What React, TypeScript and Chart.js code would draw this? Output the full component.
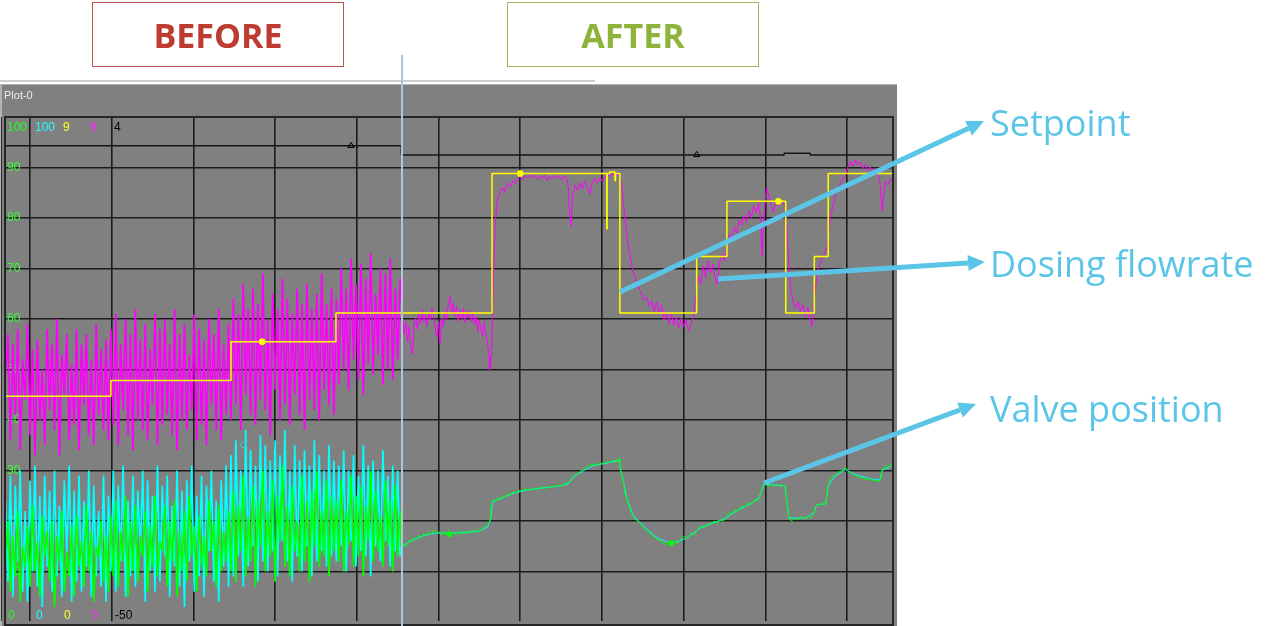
import React, { useEffect, useRef } from "react";
import { Chart, registerables } from "chart.js";

Chart.register(...registerables);

// ---------- axes ----------
const X_MIN = -3.06;
const X_MAX = 105.63;
const Y_MIN = 0.2;
const Y_MAX = 100;
const gridTimes = [0, 10, 20, 30, 40, 50, 60, 70, 80, 90, 100];
const gridLevels = [10, 20, 30, 40, 50, 60, 70, 80, 90, 100];
const levelLabels = ["90", "80", "70", "60", "50", "40", "30", "20", "10"];
const levelLabelValues = [90, 80, 70, 60, 50, 40, 30, 20, 10];
const switchTime = 45.4;

const plotTitle = "Plot-0";
const penTop = ["100", "100", "9", "9", "4"];
const penBottom = ["0", "0", "0", "0", "-50"];
const penColors = ["#22ff22", "#22ffff", "#ffff22", "#ff22ff", "#000000"];

// ---------- before period (sampled every 0.3 min from -3.0) ----------
const beforeStart = -3.0;
const beforeStep = 0.3;

const magentaBefore = [
  48, 57, 36, 55, 41, 58, 34, 52, 44, 59, 37, 54, 33, 56, 40, 50, 35, 58, 42, 55,
  38, 60, 33, 53, 45, 57, 36, 51, 39, 58, 34, 55, 43, 57, 37, 52, 35, 59, 41, 54,
  38, 56, 36,
  58, 39, 61, 35, 55, 42, 60, 37, 57, 34, 62, 40, 56, 38, 59, 36, 54, 43, 61, 35,
  58, 39, 60, 41, 55, 37, 62, 34, 57, 40, 59, 38, 53, 42, 61, 36, 58, 39, 56, 35,
  60, 43, 57, 38, 62, 36, 55, 41, 59,
  40, 64, 43, 61, 38, 67, 45, 62, 41, 66, 39, 63, 44, 69, 42, 60, 37, 65, 46, 62,
  40, 68, 43, 64, 39, 61, 45, 66, 41, 63, 38, 67, 44, 62, 42, 65, 40, 69, 46, 63,
  43, 66, 41,
  64, 47, 70, 50, 66, 46, 72, 52, 67, 48, 71, 45, 68, 51, 73, 49, 65, 53, 70, 47,
  69, 50, 72, 48, 66, 52, 68,
];

const cyanBefore = [
  24, 8, 29, 5, 27, 12, 30, 6, 22, 4, 28, 10, 31, 7, 25, 3, 29, 11, 26, 6,
  30, 9, 23, 5, 28, 13, 31, 4, 26, 8, 29, 6, 24, 11, 30, 5, 27, 9, 22, 7,
  29, 4, 25,
  10, 30, 6, 27, 12, 31, 5, 24, 9, 29, 7, 26, 14, 30, 4, 28, 10, 25, 6, 31,
  8, 27, 13, 29, 5, 23, 11, 30, 7, 26, 3, 28, 12, 31, 6, 25, 9, 29, 5, 27,
  14, 30, 8, 24, 4, 28, 11, 31, 7,
  33, 9, 36, 13, 30, 7, 38, 11, 34, 15, 31, 8, 37, 12, 35, 10, 32, 14, 36, 9,
  33, 16, 38, 12, 30, 8, 35, 13, 32, 10, 34, 15, 31, 9, 36, 12, 33, 14, 30, 11,
  35, 13, 32,
  12, 31, 15, 34, 10, 30, 16, 33, 11, 29, 14, 35, 13, 31, 9, 32, 15, 30, 12, 34,
  16, 29, 11, 31, 14, 30, 13,
];

const greenBefore = [
  12, 20, 6, 17, 9, 22, 4, 15, 11, 19, 7, 23, 10, 16, 5, 21, 13, 18, 8, 20,
  3, 17, 12, 22, 6, 14, 9, 19, 5, 21, 11, 16, 7, 23, 10, 18, 4, 15, 13, 20,
  8, 17, 6,
  21, 9, 24, 7, 18, 12, 25, 5, 20, 10, 23, 8, 17, 13, 22, 6, 19, 11, 25, 9,
  16, 14, 23, 7, 20, 12, 24, 5, 18, 10, 22, 8, 25, 13, 19, 6, 21, 11, 17, 9,
  24, 14, 20, 7, 23, 10, 18, 12, 22,
  10, 26, 8, 23, 14, 29, 9, 21, 12, 27, 7, 24, 15, 30, 10, 22, 13, 28, 8, 25,
  16, 31, 11, 23, 9, 27, 14, 20, 10, 29, 12, 24, 8, 26, 15, 30, 11, 22, 13, 28,
  9, 25, 14,
  24, 12, 28, 10, 22, 15, 29, 11, 25, 13, 27, 9, 23, 16, 30, 12, 26, 14, 21, 11,
  28, 15, 24, 10, 27, 13, 22,
];

// ---------- after period [minute, value] ----------
const magentaAfter: [number, number][] = [
  [45.6, 60.5], [45.8, 57], [46.0, 59.5], [46.2, 55.5], [46.4, 58.5], [46.6, 54], [46.8, 53], [47.0, 58.8],
  [47.2, 60.2], [47.4, 58], [47.6, 61], [47.8, 59], [48.0, 61.8], [48.2, 59.5], [48.4, 60.8], [48.6, 58.5],
  [48.8, 61.2], [49.0, 59.8], [49.2, 62.2], [49.4, 60.5], [49.6, 58.2], [49.8, 56.5], [50.0, 59.5], [50.2, 55],
  [50.4, 60.2], [50.6, 58.5], [50.8, 61.5], [51.0, 60], [51.2, 62.8], [51.4, 64.5], [51.6, 61], [51.8, 63.2],
  [52.0, 60.5], [52.2, 62.5], [52.4, 59.5], [52.6, 61.8], [52.8, 60], [53.0, 62], [53.2, 59.2], [53.4, 61.5],
  [53.6, 60.2], [53.8, 61.8], [54.0, 59.5], [54.2, 61], [54.4, 58.8], [54.6, 60.5], [54.8, 57.5], [55.0, 59.8],
  [55.2, 58], [55.4, 56.5], [55.6, 59.5], [55.8, 57.2], [56.0, 55], [56.2, 52.5], [56.3, 50], [56.5, 53],
  [56.6, 60], [56.8, 72], [57.0, 80], [57.2, 83.5], [57.5, 84.8], [57.8, 86], [58.1, 85.2], [58.4, 86.8],
  [58.8, 86.2], [59.1, 87.4], [59.4, 86.8], [59.7, 87.9], [60.0, 88.3], [60.3, 87.5], [60.6, 88.4], [60.9, 87.9],
  [61.2, 88.6], [61.5, 88.0], [61.8, 88.5], [62.1, 87.6], [62.4, 88.3], [62.7, 87.8], [63.0, 88.6], [63.3, 87.4],
  [63.6, 88.2], [63.9, 87.7], [64.2, 88.5], [64.5, 87.9], [64.8, 88.3], [65.1, 87.5], [65.4, 88.4], [65.7, 87.8],
  [65.9, 86], [66.0, 82], [66.2, 78.4], [66.4, 84], [66.7, 86.5], [67.0, 85.5], [67.3, 87], [67.6, 85.8],
  [67.9, 87.3], [68.2, 86.2], [68.5, 84.7], [68.8, 86.8], [69.1, 87.8], [69.4, 86.9], [69.8, 88], [70.1, 87.2],
  [70.4, 88.3], [70.7, 88.6], [71.0, 88.2], [71.3, 88.9], [71.6, 88.4], [72.0, 88.7], [72.3, 87.5], [72.5, 85.5],
  [72.8, 80], [73.1, 76], [73.4, 73], [73.8, 69.5], [74.1, 68], [74.4, 66.5], [74.8, 65.2], [75.1, 63.8],
  [75.5, 64.3], [75.8, 62.5], [76.1, 63.6], [76.4, 61.5], [76.7, 63.4], [77.0, 61], [77.3, 62.8], [77.6, 59.8],
  [77.9, 61.5], [78.2, 59], [78.5, 61.2], [78.8, 58.8], [79.1, 60.4], [79.4, 58.2], [79.7, 60.2], [80.0, 58.5],
  [80.3, 59.8], [80.6, 57.6], [80.9, 58.8], [81.2, 60.5], [81.5, 64.5], [81.8, 68.5], [82.1, 67], [82.4, 70.5],
  [82.7, 68.2], [83.0, 71.5], [83.3, 69.2], [83.6, 70.8], [83.9, 67.8], [84.1, 66.9], [84.4, 71.2], [84.7, 72.8],
  [85.0, 71.5], [85.3, 74.5], [85.6, 76.8], [85.9, 75.5], [86.2, 78.2], [86.5, 77], [86.8, 79.6], [87.1, 78.6],
  [87.4, 80.5], [87.7, 79.2], [88.0, 81.5], [88.3, 80], [88.6, 82.4], [88.9, 81], [89.2, 83], [89.4, 80.5],
  [89.6, 72.4], [89.8, 79], [90.0, 84], [90.2, 85.9], [90.4, 84.6], [90.7, 82.5], [91.0, 81.2], [91.3, 83.2],
  [91.6, 82.4], [91.9, 83.5], [92.2, 82.8], [92.5, 82], [92.7, 76], [92.9, 70], [93.1, 66], [93.4, 63.5],
  [93.7, 62.2], [94.0, 63.4], [94.3, 61.5], [94.6, 62.8], [94.9, 60.4], [95.2, 62.2], [95.5, 59.8], [95.7, 58.6],
  [95.9, 61.5], [96.1, 65.5], [96.4, 69.5], [96.7, 71], [97.0, 72.2], [97.3, 73.2], [97.6, 74.5], [97.8, 78.5],
  [98.0, 80.5], [98.3, 82.5], [98.6, 84.8], [98.9, 85.9], [99.2, 86.8], [99.5, 87.8], [99.8, 88.5], [100.1, 90],
  [100.4, 91.2], [100.7, 90.2], [101.0, 91.6], [101.3, 90.5], [101.6, 91.2], [101.9, 89.8], [102.2, 90.6], [102.5, 89.4],
  [102.8, 90.2], [103.1, 89], [103.4, 89.8], [103.7, 88.8], [104.0, 87.5], [104.2, 84], [104.3, 81.4], [104.5, 84.5],
  [104.7, 87.2], [105.0, 86.5], [105.3, 87.8], [105.6, 87.2],
];

const greenAfter: [number, number][] = [
  [45.5, 14.5], [45.8, 15.5], [46.1, 15.0], [46.4, 16.2], [46.7, 15.8], [47.0, 16.8], [47.3, 16.3], [47.6, 17.2],
  [47.9, 16.7], [48.2, 17.5], [48.5, 17.1], [48.8, 17.9], [49.1, 17.4], [49.4, 18.1], [49.7, 17.6], [50.0, 17.9],
  [50.3, 17.2], [50.6, 18.0], [50.9, 17.4], [51.2, 17.9], [51.5, 17.1], [51.8, 17.8], [52.1, 17.2], [52.4, 17.9],
  [52.7, 17.3], [53.0, 18.0], [53.3, 17.4], [53.6, 18.1], [53.9, 17.6], [54.2, 18.2], [54.5, 17.7], [54.8, 18.3],
  [55.1, 18.0], [55.4, 18.6], [55.7, 18.9], [56.0, 19.4], [56.3, 20.0], [56.5, 23.5], [56.7, 24.3], [57.0, 23.9],
  [57.3, 24.6], [57.6, 24.2], [57.9, 25.0], [58.2, 24.8], [58.5, 25.4], [58.8, 25.1], [59.1, 25.8], [59.4, 25.5],
  [59.8, 26.1], [60.2, 25.9], [60.6, 26.4], [61.0, 26.1], [61.5, 26.5], [62.0, 26.3], [62.5, 26.7], [63.0, 26.4],
  [63.5, 26.9], [64.0, 26.7], [64.5, 27.1], [65.0, 26.9], [65.5, 27.4], [65.9, 27.6], [66.2, 28.2], [66.6, 29.0],
  [67.0, 29.3], [67.4, 29.9], [67.8, 30.2], [68.2, 30.8], [68.6, 31.1], [69.0, 31.3], [69.4, 31.0], [69.8, 31.5],
  [70.2, 31.3], [70.6, 31.8], [71.0, 31.6], [71.4, 32.1], [71.8, 31.8], [72.1, 32.4], [72.2, 31.0], [72.4, 29.5],
  [72.6, 28.2], [72.8, 25.5], [73.1, 24.0], [73.4, 22.5], [73.8, 21.0], [74.2, 20.2], [74.6, 19.6], [75.0, 18.8],
  [75.5, 18.0], [75.9, 17.6], [76.4, 16.9], [76.9, 16.2], [77.3, 15.9], [77.7, 15.4], [78.1, 15.8], [78.5, 15.3],
  [78.9, 16.0], [79.3, 15.6], [79.7, 16.5], [80.1, 17.0], [80.5, 16.6], [80.9, 17.6], [81.3, 17.2], [81.7, 18.3],
  [82.1, 19.0], [82.5, 18.6], [82.9, 19.5], [83.3, 19.2], [83.7, 20.0], [84.1, 19.6], [84.5, 20.2], [84.9, 20.0],
  [85.2, 20.8], [85.5, 21.6], [85.9, 21.4], [86.3, 22.3], [86.7, 22.0], [87.1, 23.0], [87.5, 22.7], [87.9, 23.6],
  [88.3, 23.3], [88.7, 24.2], [89.1, 24.0], [89.4, 25.2], [89.7, 27.2], [90.0, 27.8], [90.3, 26.8], [90.7, 27.2],
  [91.1, 26.9], [91.5, 27.3], [91.9, 26.8], [92.3, 27.1], [92.5, 26.6], [92.7, 23.0], [92.9, 20.4], [93.2, 20.0],
  [93.6, 20.7], [94.0, 20.2], [94.4, 20.9], [94.8, 20.4], [95.2, 21.0], [95.6, 20.6], [95.9, 21.2], [96.1, 22.6],
  [96.4, 23.4], [96.8, 23.2], [97.2, 23.6], [97.4, 23.2], [97.6, 26.5], [97.9, 28.2], [98.3, 28.9], [98.7, 29.3],
  [99.1, 29.8], [99.5, 30.0], [99.8, 30.6], [100.2, 29.8], [100.6, 29.4], [101.0, 29.0], [101.4, 28.6], [101.8, 28.6],
  [102.2, 28.2], [102.6, 28.4], [103.0, 28.0], [103.4, 28.1], [103.8, 27.8], [104.1, 28.0], [104.3, 30.3], [104.6, 30.6],
  [105.0, 30.9], [105.3, 30.8], [105.6, 31.5],
];

const cyanAfter: [number, number][] = [
  [45.5, 14.8], [46.5, 16.0], [48.0, 17.0], [49.5, 17.6], [51.0, 17.6], [53.0, 17.7], [55.0, 18.0], [56.0, 18.8],
  [56.4, 20.5], [56.6, 23.8], [57.5, 24.4], [59.0, 25.4], [61.0, 26.2], [63.0, 26.6], [65.0, 27.0], [65.9, 27.4],
  [66.6, 28.8], [67.8, 30.0], [69.0, 31.0], [71.0, 31.6], [72.1, 32.0], [72.3, 30.0], [72.6, 28.0], [73.1, 24.2],
  [73.8, 21.2], [74.6, 19.8], [75.9, 17.8], [76.9, 16.5], [78.0, 15.8], [79.5, 16.0], [80.5, 16.8], [82.0, 18.6],
  [83.5, 19.6], [85.0, 20.4], [86.5, 22.0], [88.0, 23.2], [89.2, 24.5], [89.8, 27.2], [90.5, 27.2], [92.4, 27.0],
  [92.7, 23.2], [92.9, 20.6], [95.0, 20.6], [96.0, 21.8], [96.3, 23.2], [97.4, 23.4], [97.7, 27.0], [98.5, 28.8],
  [99.8, 30.2], [101.0, 29.2], [103.0, 28.3], [104.0, 28.1], [104.3, 30.0], [105.6, 31.0],
];

// ---------- setpoint (value held from each time until the next) ----------
const setpointTimes = [-3.06, 9.9, 24.6, 37.45, 56.55, 70.6, 70.64, 70.95, 71.6, 71.66, 72.2, 81.6, 85.3, 92.5, 96.0, 97.7, 105.63];
const setpointValues = [44.7, 47.8, 55.5, 61.2, 88.8, 77.8, 88.8, 89.1, 87.4, 88.8, 61.2, 72.4, 83.3, 61.2, 72.4, 88.8, 88.8];
const setpointMarkTimes = [28.4, 60.0, 91.6];
const setpointMarkValues = [55.5, 88.8, 83.3];

// ---------- status pen (black) ----------
const statusTimes = [-3.06, 45.45, 92.3, 95.5, 105.63];
const statusValues = [94.3, 92.5, 92.8, 92.5, 92.5];
const statusMarkTimes = [39.3, 81.6];
const statusMarkValues = [94.3, 92.5];

const cyanMarks: [number, number][] = [[26.1, 35.1]];
const greenMarks: [number, number][] = [[51.3, 17.4], [78.5, 15.6]];

// ---------- annotations ----------
const callouts = [
  { text: "Setpoint", top: 105 },
  { text: "Dosing flowrate", top: 246 },
  { text: "Valve position", top: 391 },
];
const arrows = [
  { from: [620, 292], to: [984, 121] },
  { from: [718, 279], to: [985, 262] },
  { from: [764, 483], to: [976, 404] },
];

const toPts = (start: number, step: number, vals: number[]) =>
  vals.map((v, i) => ({ x: start + i * step, y: v }));
const pairPts = (arr: [number, number][]) => arr.map(([x, y]) => ({ x, y }));
const zipPts = (xs: number[], ys: number[]) => xs.map((x, i) => ({ x, y: ys[i] }));

const panelPlugin = {
  id: "panel",
  beforeDraw(chart: any) {
    const { ctx } = chart;
    ctx.save();
    ctx.fillStyle = "#ffffff";
    ctx.fillRect(0, 0, chart.width, chart.height);
    ctx.fillStyle = "#cdcdcd";
    ctx.fillRect(0, 80, 595, 2);
    ctx.fillStyle = "#808080";
    ctx.fillRect(2, 84, 895, 626 - 84);
    ctx.fillStyle = "#b4b4b4";
    ctx.fillRect(2, 84, 895, 1);
    ctx.fillRect(0, 84, 2, 626 - 84);
    ctx.font = '11px "Liberation Sans", Arial, sans-serif';
    ctx.fillStyle = "#ececec";
    ctx.textBaseline = "alphabetic";
    ctx.fillText(plotTitle, 4, 99);
    ctx.restore();
  },
  beforeDatasetsDraw(chart: any) {
    const { ctx } = chart;
    const ys = chart.scales.y;
    ctx.save();
    ctx.font = '12px "Liberation Sans", Arial, sans-serif';
    ctx.textBaseline = "middle";
    ctx.fillStyle = "#33ff33";
    levelLabels.forEach((t, i) => {
      ctx.fillText(t, 7, ys.getPixelForValue(levelLabelValues[i]));
    });
    const xsPos = [7, 35, 63, 90, 114];
    ctx.textBaseline = "alphabetic";
    penTop.forEach((t, i) => {
      ctx.fillStyle = penColors[i];
      ctx.fillText(t, xsPos[i], 131);
    });
    penBottom.forEach((t, i) => {
      ctx.fillStyle = penColors[i];
      ctx.fillText(t, xsPos[i] + 1, 619);
    });
    ctx.restore();
  },
  afterDatasetsDraw(chart: any) {
    const { ctx, chartArea: a } = chart;
    ctx.save();
    ctx.strokeStyle = "#262626";
    ctx.lineWidth = 2;
    ctx.strokeRect(a.left, a.top, a.right - a.left, a.bottom - a.top + 4);
    ctx.fillStyle = "#2e2e2e";
    ctx.fillRect(1, a.top, 1, a.bottom - a.top);
    ctx.restore();
  },
};

function arrowHead(x1: number, y1: number, x2: number, y2: number, len = 17, w = 8) {
  const dx = x2 - x1, dy = y2 - y1;
  const L = Math.hypot(dx, dy);
  const ux = dx / L, uy = dy / L;
  const bx = x2 - ux * len, by = y2 - uy * len;
  return {
    bx, by,
    pts: `${x2},${y2} ${bx - uy * w},${by + ux * w} ${bx + uy * w},${by - ux * w}`,
  };
}

const noisyWidth = { borderWidth: (c: any) => (c.p0.parsed.x < switchTime ? 1.7 : 1) };

export default function App() {
  const ref = useRef<HTMLCanvasElement>(null);

  useEffect(() => {
    document.body.style.margin = "0";
    const lineBase = { pointRadius: 0, tension: 0, fill: false, borderJoinStyle: "bevel" as const };
    const chart = new Chart(ref.current!, {
      type: "line",
      data: {
        datasets: [
          {
            label: "status marks", data: zipPts(statusMarkTimes, statusMarkValues), showLine: false,
            pointStyle: "triangle", pointRadius: 3.5, borderColor: "#000000", backgroundColor: "rgba(0,0,0,0)", borderWidth: 1,
          },
          { ...lineBase, label: "Status", data: zipPts(statusTimes, statusValues), stepped: "before", borderColor: "#151515", borderWidth: 1.5 },
          {
            label: "setpoint marks", data: zipPts(setpointMarkTimes, setpointMarkValues), showLine: false,
            pointRadius: 3, borderColor: "#ffff00", backgroundColor: "#ffff00", borderWidth: 1,
          },
          { ...lineBase, label: "Setpoint", data: zipPts(setpointTimes, setpointValues), stepped: "before", borderColor: "#ffff00", borderWidth: 1.5 },
          {
            ...lineBase, label: "Dosing flowrate", data: [...toPts(beforeStart, beforeStep, magentaBefore), ...pairPts(magentaAfter)],
            borderColor: "#ff00ff", borderWidth: 1, segment: noisyWidth,
          },
          {
            label: "valve marks", data: pairPts(greenMarks), showLine: false,
            pointRadius: 2.5, borderColor: "#00ff00", backgroundColor: "#00ff00", borderWidth: 1,
          },
          {
            ...lineBase, label: "Valve position", data: [...toPts(beforeStart, beforeStep, greenBefore), ...pairPts(greenAfter)],
            borderColor: "#00ff00", borderWidth: 1, segment: noisyWidth,
          },
          {
            label: "demand marks", data: pairPts(cyanMarks), showLine: false,
            pointRadius: 3, borderColor: "#40c8c8", backgroundColor: "rgba(0,0,0,0)", borderWidth: 1,
          },
          {
            ...lineBase, label: "Valve demand", data: [...toPts(beforeStart, beforeStep, cyanBefore), ...pairPts(cyanAfter)],
            borderColor: "#00ffff", borderWidth: 1, segment: noisyWidth,
          },
        ],
      },
      options: {
        responsive: false,
        animation: false,
        devicePixelRatio: 1,
        events: [],
        layout: { padding: { left: 5, right: 387, top: 117, bottom: 0 } },
        plugins: { legend: { display: false }, tooltip: { enabled: false }, title: { display: false } },
        scales: {
          x: {
            type: "linear", min: X_MIN, max: X_MAX,
            afterBuildTicks: (s: any) => { s.ticks = gridTimes.map((v) => ({ value: v })); },
            ticks: { display: false }, border: { display: false },
            grid: { color: "#1c1c1c", lineWidth: 1.6, drawTicks: false },
          },
          y: {
            type: "linear", min: Y_MIN, max: Y_MAX,
            afterBuildTicks: (s: any) => { s.ticks = gridLevels.map((v) => ({ value: v })); },
            ticks: { display: false }, border: { display: false },
            grid: { color: "#1c1c1c", lineWidth: 1.6, drawTicks: false },
          },
        },
      },
      plugins: [panelPlugin],
    } as any);
    return () => chart.destroy();
  }, []);

  const accent = "#5bc5e8";

  return (
    <div style={{ position: "fixed", left: 0, top: 0, width: 1280, height: 626, overflow: "hidden", background: "#ffffff" }}>
      <canvas ref={ref} width={1280} height={626} style={{ position: "absolute", left: 0, top: 0, width: 1280, height: 626 }} />
      <svg width={1280} height={626} style={{ position: "absolute", left: 0, top: 0, pointerEvents: "none" }}>
        <line x1={402} y1={55} x2={402} y2={626} stroke="#b3c3d6" strokeWidth={2} />
        {arrows.map((a, i) => {
          const h = arrowHead(a.from[0], a.from[1], a.to[0], a.to[1]);
          return (
            <g key={i}>
              <line x1={a.from[0]} y1={a.from[1]} x2={h.bx} y2={h.by} stroke={accent} strokeWidth={5} />
              <polygon points={h.pts} fill={accent} />
            </g>
          );
        })}
      </svg>
      <div style={{
        position: "absolute", left: 92, top: 2, width: 252, height: 65, boxSizing: "border-box",
        border: "1.5px solid #c0504d", display: "flex", alignItems: "center", justifyContent: "center",
        fontFamily: '"Open Sans", sans-serif', fontWeight: 700, fontSize: 34, color: "#be3b31",
      }}>BEFORE</div>
      <div style={{
        position: "absolute", left: 507, top: 2, width: 252, height: 65, boxSizing: "border-box",
        border: "1.5px solid #9bbb59", display: "flex", alignItems: "center", justifyContent: "center",
        fontFamily: '"Open Sans", sans-serif', fontWeight: 700, fontSize: 34, color: "#8db33a",
      }}>AFTER</div>
      {callouts.map((c, i) => (
        <div key={i} style={{
          position: "absolute", left: 990, top: c.top, whiteSpace: "nowrap",
          fontFamily: '"Open Sans", sans-serif', fontSize: 36, lineHeight: "36px", color: accent,
        }}>{c.text}</div>
      ))}
    </div>
  );
}
